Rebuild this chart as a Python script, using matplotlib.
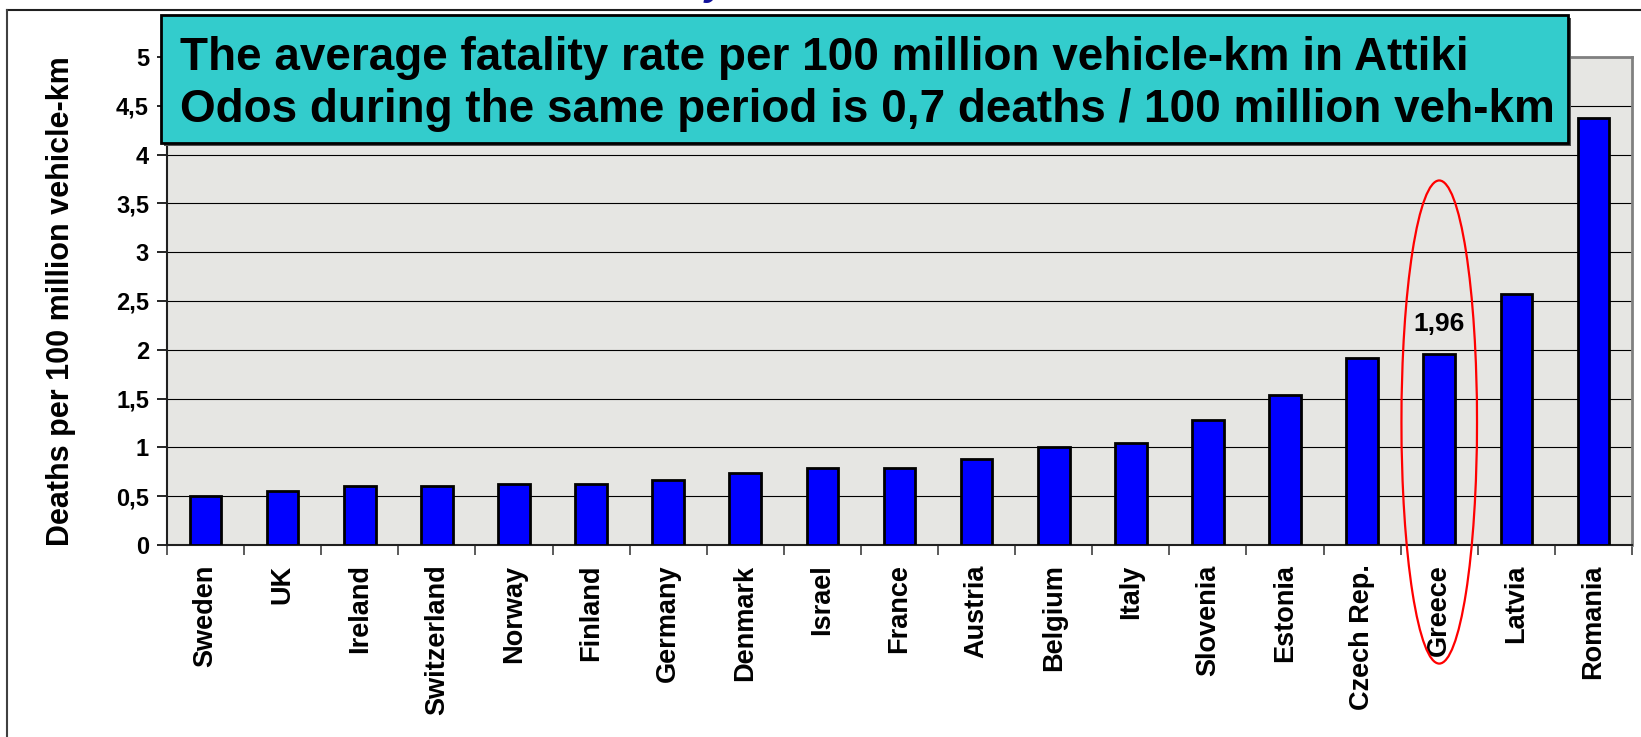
import matplotlib
matplotlib.use("Agg")
import matplotlib.pyplot as plt
from matplotlib.patches import Rectangle, Ellipse
from matplotlib.lines import Line2D

plt.rcParams["font.family"] = ["Liberation Sans", "DejaVu Sans"]
plt.rcParams["font.weight"] = "bold"
plt.rcParams["axes.labelweight"] = "bold"

# --- data ---
countries = ["Sweden", "UK", "Ireland", "Switzerland", "Norway", "Finland",
             "Germany", "Denmark", "Israel", "France", "Austria", "Belgium",
             "Italy", "Slovenia", "Estonia", "Czech Rep.", "Greece", "Latvia",
             "Romania"]
deaths = [0.50, 0.55, 0.60, 0.60, 0.62, 0.62, 0.67, 0.74, 0.79, 0.79,
          0.88, 1.00, 1.05, 1.28, 1.54, 1.92, 1.96, 2.57, 4.38]
yticks = [0, 0.5, 1, 1.5, 2, 2.5, 3, 3.5, 4, 4.5, 5]
ytick_labels = ["0", "0,5", "1", "1,5", "2", "2,5", "3", "3,5", "4", "4,5", "5"]
highlight = "Greece"
highlight_label = "1,96"
box_lines = ["The average fatality rate per 100 million vehicle-km in Attiki",
             "Odos during the same period is 0,7 deaths / 100 million veh-km"]

W, H = 1641, 737
fig = plt.figure(figsize=(W / 100, H / 100), dpi=100)

# outer frame (only top and left edges fall inside the picture)
fig.add_artist(Line2D([7 / W, 1], [1 - 10 / H, 1 - 10 / H], color="#202020", lw=1.5))
fig.add_artist(Line2D([7 / W, 7 / W], [0, 1 - 10 / H], color="#404040", lw=1.5))

# cut-off title above the frame
fig.text(705 / W, 1 + 5 / H, "y", color="#10109a", fontsize=28,
         style="italic", ha="left", va="baseline")

ax = fig.add_axes([167 / W, 1 - 545 / H, 1465 / W, 488 / H])
ax.set_facecolor("#e6e6e3")

x = list(range(len(countries)))
ax.bar(x, deaths, width=0.41, color="#0000ff", edgecolor="black", linewidth=2, zorder=3)

ax.set_xlim(-0.5, len(countries) - 0.5)
ax.set_ylim(0, 5)
ax.set_yticks(yticks)
ax.set_yticklabels(ytick_labels)
ax.yaxis.grid(True, color="black", linewidth=0.8, zorder=1)
ax.set_axisbelow(True)

ax.set_xticks(x)
ax.set_xticklabels(countries, rotation=90)
ax.set_xticks([i - 0.5 for i in range(len(countries) + 1)], minor=True)
ax.tick_params(axis="x", which="major", length=0, pad=14, labelsize=19.5)
ax.tick_params(axis="x", which="minor", length=7, width=1.2, color="#404040")
ax.tick_params(axis="y", length=7, width=1.2, pad=6, labelsize=17)

ax.set_ylabel("Deaths per 100 million vehicle-km", fontsize=22)
ax.yaxis.set_label_coords(-0.062, 0.5)

for side in ["left", "bottom"]:
    ax.spines[side].set_color("#202020")
    ax.spines[side].set_linewidth(1.5)
for side in ["top", "right"]:
    ax.spines[side].set_color("#808080")
    ax.spines[side].set_linewidth(2)

# highlighted bar: value label and red ellipse
gi = countries.index(highlight)
ax.text(gi, 2.26, highlight_label, ha="center", va="center", fontsize=19, zorder=5)
ax.add_patch(Ellipse((gi, 1.26), width=0.98, height=4.95, fill=False,
                     edgecolor="red", linewidth=1.6, clip_on=False, zorder=6))

# text box
bx0, by0, bx1, by1 = 161 / W, 1 - 143 / H, 1568 / W, 1 - 15 / H
fig.add_artist(Rectangle((bx0 + 3 / W, by0 - 3 / H), bx1 - bx0, by1 - by0,
                         transform=fig.transFigure, facecolor="#505050",
                         edgecolor="none", zorder=10))
fig.add_artist(Rectangle((bx0, by0), bx1 - bx0, by1 - by0,
                         transform=fig.transFigure, facecolor="#33cccc",
                         edgecolor="black", linewidth=2, zorder=11))
fig.text(180 / W, 1 - 58 / H, box_lines[0], fontsize=33, ha="left", va="center", zorder=12)
fig.text(180 / W, 1 - 110 / H, box_lines[1], fontsize=33, ha="left", va="center", zorder=12)

fig.savefig("out.png", dpi=100)
